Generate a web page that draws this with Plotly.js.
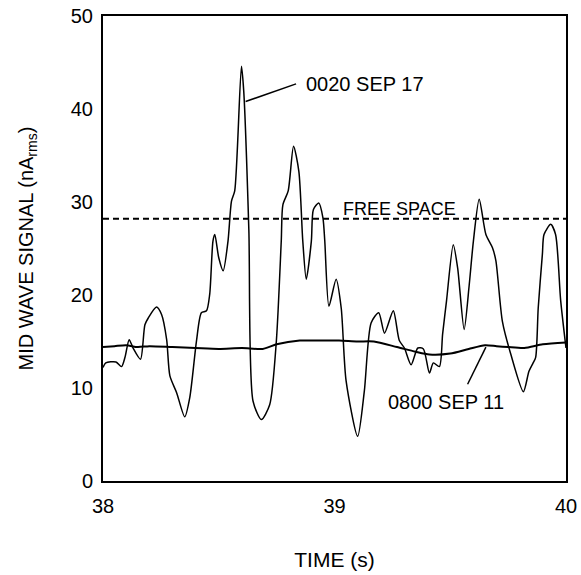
<!DOCTYPE html>
<html>
<head>
<meta charset="utf-8">
<script src="https://cdn.plot.ly/plotly-3.0.1.min.js"></script>
<style>html,body{margin:0;padding:0;background:#fff;}</style>
</head>
<body>
<div id="chart" style="width:581px;height:575px;"></div>
<script>
// 0020 SEP 17 signal
const sep17X = [38.000,38.012,38.056,38.080,38.095,38.113,38.130,38.162,38.181,38.195,38.231,38.253,38.275,38.289,38.318,38.353,38.375,38.404,38.425,38.447,38.461,38.475,38.483,38.500,38.519,38.540,38.555,38.569,38.598,38.608,38.630,38.648,38.684,38.720,38.749,38.770,38.777,38.800,38.823,38.846,38.863,38.878,38.900,38.909,38.932,38.950,38.958,38.976,39.007,39.029,39.050,39.100,39.129,39.158,39.191,39.216,39.254,39.280,39.302,39.331,39.360,39.384,39.410,39.427,39.453,39.467,39.484,39.513,39.532,39.560,39.582,39.600,39.625,39.654,39.682,39.697,39.725,39.762,39.816,39.840,39.858,39.869,39.880,39.898,39.905,39.934,39.955,39.977,40.000];
const sep17Y = [12.2,12.7,12.8,12.3,13.3,15.2,14.3,13.1,16.8,17.5,18.7,17.9,15.2,11.3,9.5,6.9,9.0,15.1,18.1,18.3,20.1,25.8,26.5,24.0,22.6,25.8,30.1,31.2,44.6,41.9,27.0,8.6,6.6,8.2,15.1,25.8,29.7,31.2,36.0,33.3,25.8,21.7,25.8,29.2,29.9,28.3,25.8,18.8,21.7,18.6,10.8,4.8,9.7,17.0,18.1,15.9,18.3,15.1,14.3,12.5,14.3,14.2,11.6,12.7,12.3,15.8,19.4,25.4,22.9,16.3,21.1,25.8,30.3,26.5,25.1,23.7,17.2,13.6,9.6,11.8,12.7,13.3,18.6,24.4,26.5,27.6,26.5,19.4,14.3];

// 0800 SEP 11 signal
const sep11X = [38.00,38.05,38.10,38.15,38.20,38.30,38.40,38.50,38.60,38.69,38.75,38.85,38.95,39.02,39.10,39.17,39.27,39.35,39.41,39.50,39.58,39.65,39.70,39.75,39.82,39.90,40.00];
const sep11Y = [14.4,14.5,14.6,14.4,14.5,14.4,14.3,14.2,14.3,14.2,14.7,15.1,15.1,15.1,15.0,15.0,14.4,13.9,13.6,13.7,14.2,14.6,14.5,14.4,14.3,14.7,14.9];

// free space reference level
const freeX = [38, 40];
const freeY = [28.2, 28.2];

// label leader lines
const lead17X = [38.616, 38.834];
const lead17Y = [40.8, 42.7];
const lead11X = [39.575, 39.654];
const lead11Y = [10.4, 14.4];

// text labels
const labelText = ["0020 SEP 17", "FREE SPACE", "0800 SEP 11"];
const labelX = [38.869, 39.28, 39.48];
const labelY = [42.7, 29.3, 8.5];

// axis ranges and tick steps
const xRange = [38, 40];
const yRange = [0, 50];
const xMajorStep = 1, xMinorStep = 0.1;
const yMajorStep = 10, yMinorStep = 2;

const FONT = "Arial, 'Liberation Sans', Helvetica, sans-serif";

const traces = [
  {x: sep17X, y: sep17Y, type: "scatter", mode: "lines", line: {color: "#000", width: 1.5, shape: "spline", smoothing: 0.7}, hoverinfo: "skip"},
  {x: sep11X, y: sep11Y, type: "scatter", mode: "lines", line: {color: "#000", width: 2, shape: "spline", smoothing: 0.7}, hoverinfo: "skip"},
  {x: freeX, y: freeY, type: "scatter", mode: "lines", line: {color: "#000", width: 2, dash: "6px,4px"}, hoverinfo: "skip"},
  {x: lead17X, y: lead17Y, type: "scatter", mode: "lines", line: {color: "#000", width: 1.5}, hoverinfo: "skip"},
  {x: lead11X, y: lead11Y, type: "scatter", mode: "lines", line: {color: "#000", width: 1.5}, hoverinfo: "skip"}
];

const annotations = [
  {x: labelX[0], y: labelY[0], text: labelText[0], showarrow: false, xanchor: "left", yanchor: "middle", font: {family: FONT, size: 20, color: "#000"}},
  {x: labelX[1], y: labelY[1], text: labelText[1], showarrow: false, xanchor: "center", yanchor: "middle", font: {family: FONT, size: 18, color: "#000"}},
  {x: labelX[2], y: labelY[2], text: labelText[2], showarrow: false, xanchor: "center", yanchor: "middle", font: {family: FONT, size: 20, color: "#000"}}
];

const layout = {
  width: 581, height: 575,
  margin: {l: 103, r: 15, t: 16, b: 94},
  paper_bgcolor: "#fff", plot_bgcolor: "rgba(0,0,0,0)",
  showlegend: false,
  font: {family: FONT, size: 20, color: "#000"},
  xaxis: {
    domain: [0, 1], range: xRange, autorange: false, tickmode: "linear", tick0: xRange[0], dtick: xMajorStep,
    ticks: "", showline: true, linewidth: 2, linecolor: "#000", mirror: true,
    showgrid: false, zeroline: false, ticklabelstandoff: 6,
    tickfont: {family: FONT, size: 20, color: "#000"},
    title: {text: "TIME (s)", font: {family: FONT, size: 21, color: "#000"}, standoff: 36},
    automargin: false, fixedrange: true
  },
  yaxis: {
    domain: [0, 1], range: yRange, autorange: false, tickmode: "linear", tick0: yRange[0], dtick: yMajorStep,
    ticks: "", showline: true, linewidth: 2, linecolor: "#000", mirror: true,
    showgrid: false, zeroline: false, ticklabelstandoff: 4,
    tickfont: {family: FONT, size: 20, color: "#000"},
    title: {text: "MID WAVE SIGNAL (nA<sub>rms</sub>)", font: {family: FONT, size: 20, color: "#000"}, standoff: 32},
    automargin: false, fixedrange: true
  },
  annotations: annotations
};

// Inward-pointing frame ticks: thin helper subplots sitting on each edge of the plot,
// whose "outside" ticks point into the main plot area. They share the main axis ranges.
const EPS = 0.001;
const hidden = {ticks: "", showticklabels: false, showline: false, showgrid: false, zeroline: false,
                fixedrange: true, automargin: false, autorange: false, range: [0, 1]};
let axisId = 2;
function addEdgeTicks(letter, edge, range, step, len, width) {
  const id = axisId++;
  const tickAx = {
    range: range, autorange: false, tickmode: "linear", tick0: range[0], dtick: step,
    ticks: "outside", ticklen: len, tickwidth: width, tickcolor: "#000",
    showticklabels: false, showline: false, showgrid: false, zeroline: false,
    fixedrange: true, automargin: false, domain: [0, 1]
  };
  if (letter === "x") {
    tickAx.anchor = "y" + id;
    tickAx.side = edge === "bottom" ? "top" : "bottom";
    layout["xaxis" + id] = tickAx;
    layout["yaxis" + id] = Object.assign({}, hidden, {anchor: "x" + id,
      domain: edge === "bottom" ? [0, EPS] : [1 - EPS, 1]});
  } else {
    tickAx.anchor = "x" + id;
    tickAx.side = edge === "left" ? "right" : "left";
    layout["yaxis" + id] = tickAx;
    layout["xaxis" + id] = Object.assign({}, hidden, {anchor: "y" + id,
      domain: edge === "left" ? [0, EPS] : [1 - EPS, 1]});
  }
}
["bottom", "top"].forEach(function (edge) {
  addEdgeTicks("x", edge, xRange, xMajorStep, 11, 2);
  addEdgeTicks("x", edge, xRange, xMinorStep, 6, 1.5);
});
["left", "right"].forEach(function (edge) {
  addEdgeTicks("y", edge, yRange, yMajorStep, 11, 2);
  addEdgeTicks("y", edge, yRange, yMinorStep, 6, 1.5);
});

Plotly.newPlot("chart", traces, layout, {staticPlot: true, displayModeBar: false});
</script>
</body>
</html>
